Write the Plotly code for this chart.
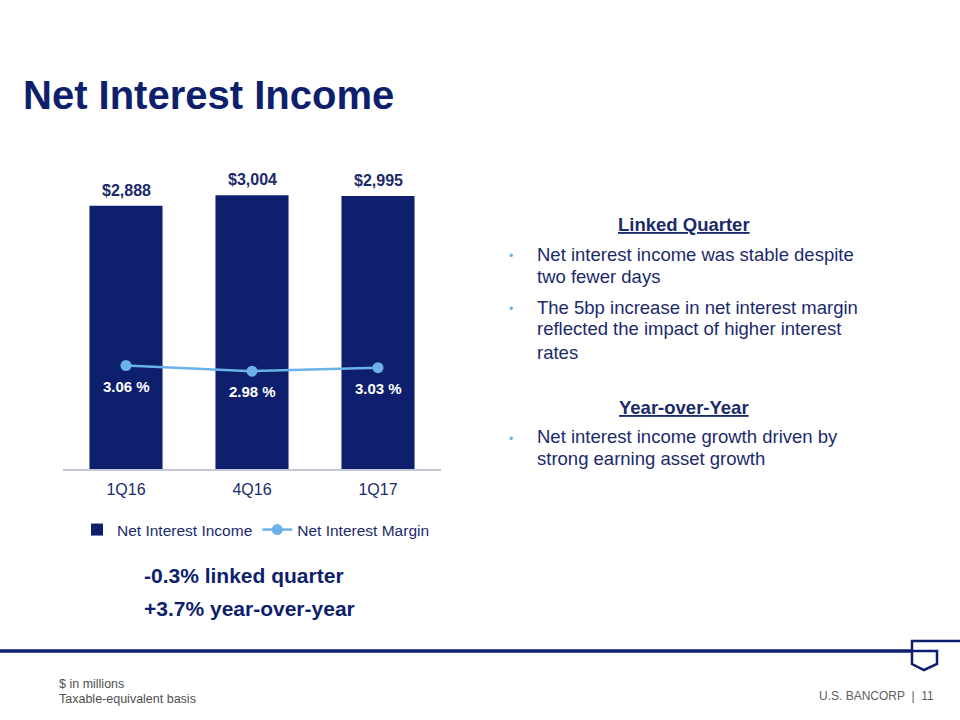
import plotly.graph_objects as go

# ---- data ----
quarters = ["1Q16", "4Q16", "1Q17"]
nii_values = [2888, 3004, 2995]          # Net Interest Income, $ millions
nim_values = [3.06, 2.98, 3.03]          # Net Interest Margin, %
nii_labels = ["$2,888", "$3,004", "$2,995"]
nim_labels = ["3.06 %", "2.98 %", "3.03 %"]

W, H = 960, 720
NAVY = "#0E1F6E"
TEXT = "#1B2A6B"
LIGHT = "#6BB2E8"
FONT = "Liberation Sans, Arial, sans-serif"


def py(p):
    """pixel y -> paper y"""
    return 1 - p / H


def px(p):
    return p / W


fig = go.Figure()
fig.add_trace(go.Bar(
    x=quarters, y=nii_values, name="Net Interest Income",
    marker=dict(color=NAVY, line=dict(width=0)), width=0.58,
    yaxis="y", hoverinfo="skip",
))
fig.add_trace(go.Scatter(
    x=quarters, y=nim_values, name="Net Interest Margin",
    mode="lines+markers", line=dict(color=LIGHT, width=2.5),
    marker=dict(color=LIGHT, size=11), yaxis="y2", hoverinfo="skip",
))

annotations = []
for q, v, t in zip(quarters, nii_values, nii_labels):
    annotations.append(dict(x=q, y=v, xref="x", yref="y", text=f"<b>{t}</b>",
                            showarrow=False, yanchor="bottom", yshift=5,
                            font=dict(family=FONT, size=16, color=TEXT)))
for q, v, t in zip(quarters, nim_values, nim_labels):
    annotations.append(dict(x=q, y=v, xref="x", yref="y2", text=f"<b>{t}</b>",
                            showarrow=False, yanchor="top", yshift=-10,
                            font=dict(family=FONT, size=15, color="white")))

# title
annotations.append(dict(x=px(21), y=py(95), xref="paper", yref="paper",
                        text="<b>Net Interest Income</b>", showarrow=False,
                        xanchor="left", yanchor="middle",
                        font=dict(family=FONT, size=40, color=NAVY)))

# bottom stats
for txt, yy in [("-0.3% linked quarter", 575), ("+3.7% year-over-year", 608)]:
    annotations.append(dict(x=px(142), y=py(yy), xref="paper", yref="paper",
                            text=f"<b>{txt}</b>", showarrow=False,
                            xanchor="left", yanchor="middle",
                            font=dict(family=FONT, size=21, color=NAVY)))

# right-side commentary
headers = [("Linked Quarter", 224), ("Year-over-Year", 407)]
for txt, yy in headers:
    annotations.append(dict(x=px(684), y=py(yy), xref="paper", yref="paper",
                            text=f"<b>{txt}</b>", showarrow=False,
                            xanchor="center", yanchor="middle",
                            font=dict(family=FONT, size=18.5, color=TEXT,
                                      lineposition="under")))
body_lines = [
    ("Net interest income was stable despite", 254, True),
    ("two fewer days", 276, False),
    ("The 5bp increase in net interest margin", 307, True),
    ("reflected the impact of higher interest", 329, False),
    ("rates", 352, False),
    ("Net interest income growth driven by", 437, True),
    ("strong earning asset growth", 459, False),
]
for txt, yy, bullet in body_lines:
    annotations.append(dict(x=px(535), y=py(yy), xref="paper", yref="paper",
                            text=txt, showarrow=False,
                            xanchor="left", yanchor="middle",
                            font=dict(family=FONT, size=18.5, color=TEXT)))
    if bullet:
        annotations.append(dict(x=px(511), y=py(yy + 2), xref="paper", yref="paper",
                                text="•", showarrow=False,
                                xanchor="center", yanchor="middle",
                                font=dict(family=FONT, size=12, color=LIGHT)))

# footer
annotations.append(dict(x=px(57), y=py(684), xref="paper", yref="paper",
                        text="$ in millions", showarrow=False,
                        xanchor="left", yanchor="middle",
                        font=dict(family=FONT, size=12.5, color="#505050")))
annotations.append(dict(x=px(57), y=py(699), xref="paper", yref="paper",
                        text="Taxable-equivalent basis", showarrow=False,
                        xanchor="left", yanchor="middle",
                        font=dict(family=FONT, size=12.5, color="#505050")))
annotations.append(dict(x=px(936), y=py(696), xref="paper", yref="paper",
                        text="U.S. BANCORP  |  11", showarrow=False,
                        xanchor="right", yanchor="middle",
                        font=dict(family=FONT, size=12, color="#606060")))

shapes = [
    # footer rule
    dict(type="line", xref="paper", yref="paper", x0=0, x1=px(913),
         y0=py(651), y1=py(651), line=dict(color=NAVY, width=3.5)),
    # logo
    dict(type="path", xref="paper", yref="paper",
         path=(f"M {px(960)} {py(641)} L {px(912)} {py(641)} L {px(912)} {py(664)} "
               f"L {px(924)} {py(670)} L {px(937)} {py(664)} L {px(937)} {py(651)} "
               f"L {px(912)} {py(651)}"),
         line=dict(color=NAVY, width=2.5)),
]

fig.update_layout(
    width=W, height=H,
    margin=dict(l=0, r=0, t=0, b=0),
    paper_bgcolor="white", plot_bgcolor="white",
    font=dict(family=FONT, color=TEXT),
    showlegend=True,
    legend=dict(orientation="h", x=px(77), y=py(530), xanchor="left",
                yanchor="middle", font=dict(family=FONT, size=15.5, color=TEXT),
                bgcolor="rgba(0,0,0,0)", itemwidth=30),
    xaxis=dict(domain=[px(63), px(441)], range=[-0.5, 2.5], showgrid=False,
               showline=True, linecolor="#C5C8D4", linewidth=1.5, ticks="",
               tickfont=dict(family=FONT, size=16, color=TEXT), zeroline=False,
               ticklabelstandoff=5, fixedrange=True),
    yaxis=dict(domain=[py(469), py(150)], range=[0, 3500], visible=False,
               showgrid=False, zeroline=False),
    yaxis2=dict(domain=[py(469), py(150)], range=[1.6, 6.1], overlaying="y",
                visible=False, showgrid=False, zeroline=False, anchor="x"),
    annotations=annotations,
    shapes=shapes,
    bargap=0.42,
)

fig.write_html("out.html")
